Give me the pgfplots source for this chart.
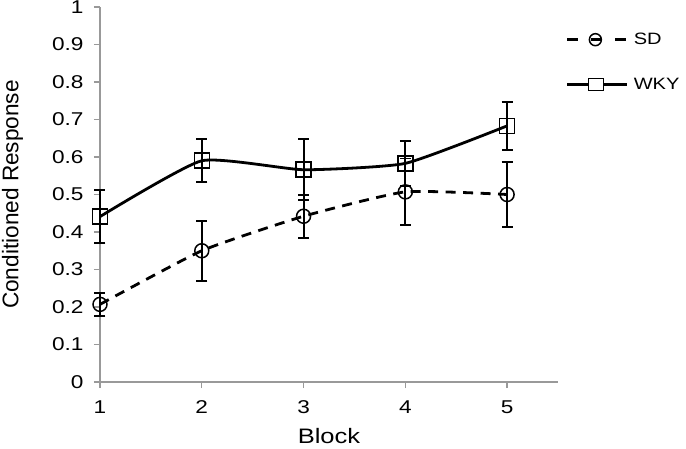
\documentclass[border=0pt]{standalone}
\usepackage{pgfplots}
\pgfplotsset{compat=1.18}
\usepackage{fontspec}
\setmainfont[FakeStretch=1.22]{Liberation Sans}
\newfontfamily\plainfont{Liberation Sans}
\begin{document}
\begin{tikzpicture}
\useasboundingbox (-100bp,-67bp) rectangle (586bp,382bp);
\begin{axis}[
  scale only axis, width=458bp, height=375bp,
  xmin=1, xmax=5.5, ymin=0, ymax=1,
  axis x line=bottom, axis y line=left,
  axis line style={-, draw=gray!80, line width=1.3bp},
  xtick={1,2,3,4,5},
  ytick={0,0.1,0.2,0.3,0.4,0.5,0.6,0.7,0.8,0.9,1},
  yticklabels={0,0.1,0.2,0.3,0.4,0.5,0.6,0.7,0.8,0.9,1},
  tick align=outside, major tick length=6bp,
  tick style={draw=gray!80, line width=1.3bp},
  /pgf/number format/assume math mode=true,
  tick label style={font=\fontsize{18.6}{20}\selectfont, black},
  yticklabel style={xshift=-7bp},
  xticklabel style={yshift=-9bp},
  xlabel={Block}, ylabel={\plainfont Conditioned Response},
  xlabel style={font=\fontsize{21}{24}\selectfont, at={(axis description cs:0.5,-0.145)}, anchor=center},
  ylabel style={font=\fontsize{22.7}{26}\selectfont, at={(axis description cs:-0.191,0.5)}, anchor=center, rotate=0},
  clip=false,
  legend style={at={(axis description cs:1.017,0.936)}, anchor=north west,
    draw=none, fill=none, row sep=28bp, inner sep=0pt,
    font=\fontsize{16.5}{18}\selectfont, cells={anchor=west},
    /tikz/every odd column/.append style={column sep=3bp}},
  legend cell align=left,
  error bars/y dir=both, error bars/y explicit,
  error bars/error bar style={line width=1.9bp, black, solid},
  error bars/error mark options={rotate=90, mark size=5.5bp, line width=1.9bp, black, solid},
]
\addplot[black, line width=2.8bp, dash pattern=on 10bp off 7.5bp, smooth, tension=0.3,
  mark=o, mark size=7bp, mark options={solid, line width=1.5bp},
  legend image code/.code={
    \draw[black, line width=2.8bp, dash pattern=on 11bp off 13bp] (0bp,0bp) -- (60bp,0bp);
    \draw[black, line width=1.5bp, solid] (28bp,0bp) circle (6bp);
  }]
  coordinates {
  (1,0.207) +- (0,0.030)
  (2,0.350) +- (0,0.080)
  (3,0.442) +- (0,0.057)
  (4,0.507) +- (0,0.089)
  (5,0.500) +- (0,0.087)
};
\addlegendentry{SD}
\addplot[black, line width=2.8bp, solid, smooth, tension=0.3,
  mark=square, mark size=7.5bp, mark options={solid, line width=1.5bp},
  legend image code/.code={
    \draw[black, line width=2.8bp] (0bp,0bp) -- (60bp,0bp);
    \draw[black, line width=1.5bp, fill=white] (21bp,-6bp) rectangle (36bp,6bp);
  }]
  coordinates {
  (1,0.441) +- (0,0.070)
  (2,0.590) +- (0,0.057)
  (3,0.566) +- (0,0.081)
  (4,0.583) +- (0,0.060)
  (5,0.683) +- (0,0.064)
};
\addlegendentry{WKY}
\end{axis}
\end{tikzpicture}
\end{document}
